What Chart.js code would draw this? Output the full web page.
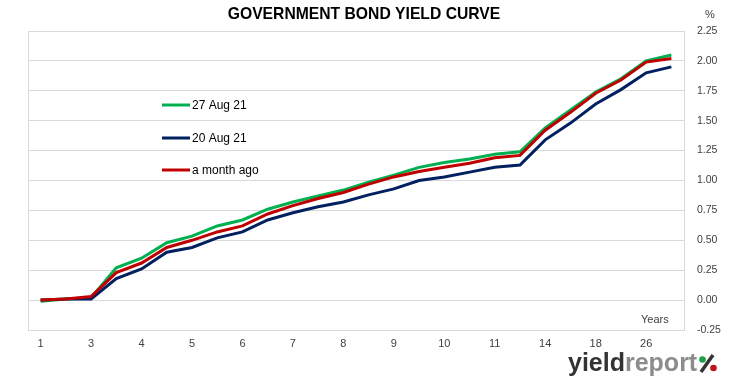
<!DOCTYPE html>
<html>
<head>
<meta charset="utf-8">
<script src="https://cdn.jsdelivr.net/npm/chart.js@4.4.1/dist/chart.umd.min.js"></script>
<style>
  html, body { margin: 0; padding: 0; background: #fff; }
</style>
</head>
<body>
<canvas id="yield-curve" width="731" height="381"></canvas>
<script>
// Maturity buckets: only every other one is labelled on the axis
const categories = ['1', '', '3', '', '4', '', '5', '', '6', '', '7', '', '8', '',
  '9', '', '10', '', '11', '', '14', '', '18', '', '26', ''];

const yield27Aug = [-0.01, 0.01, 0.02, 0.27, 0.35, 0.48, 0.535, 0.62, 0.67, 0.76, 0.82, 0.87, 0.92,
  0.985, 1.045, 1.11, 1.15, 1.18, 1.22, 1.24, 1.44, 1.59, 1.74, 1.85, 2.00, 2.05];
const yield20Aug = [0.00, 0.01, 0.01, 0.18, 0.26, 0.40, 0.44, 0.52, 0.57, 0.67, 0.73, 0.78, 0.82,
  0.88, 0.93, 1.00, 1.03, 1.07, 1.11, 1.13, 1.34, 1.48, 1.64, 1.76, 1.90, 1.95];
const yieldMonthAgo = [0.00, 0.01, 0.03, 0.23, 0.31, 0.44, 0.50, 0.57, 0.62, 0.72, 0.79, 0.85, 0.90,
  0.97, 1.03, 1.075, 1.11, 1.145, 1.19, 1.21, 1.42, 1.57, 1.73, 1.84, 1.99, 2.02];

const seriesNames = ['27 Aug 21', '20 Aug 21', 'a month ago'];

const TXT = '#404040';
const GRID = '#d9d9d9';

// title, legend, "Years", "%" and the logo are drawn by hand on top
const decorations = {
  id: 'decorations',
  afterDraw(chart) {
    const c = chart.ctx;
    const a = chart.chartArea;
    c.save();

    // frame round the plot
    c.strokeStyle = GRID;
    c.lineWidth = 1;
    c.strokeRect(a.left + 0.5, a.top + 0.5, a.right - a.left, a.bottom - a.top);

    c.fillStyle = '#000';
    c.textAlign = 'center';
    c.textBaseline = 'middle';
    c.font = 'bold 15.7px "Liberation Sans", sans-serif';
    c.fillText('GOVERNMENT BOND YIELD CURVE', 364, 15);

    c.fillStyle = TXT;
    c.font = '11px "Liberation Sans", sans-serif';
    c.fillText('%', 710, 15);
    c.textAlign = 'left';
    c.fillText('Years', 641, 320);

    // legend inside the plot
    const legY = [105, 138, 170];
    chart.data.datasets.forEach((ds, i) => {
      c.strokeStyle = ds.borderColor;
      c.lineWidth = 3;
      c.beginPath();
      c.moveTo(162, legY[i]);
      c.lineTo(190, legY[i]);
      c.stroke();
      c.fillStyle = '#000';
      c.font = '12px "Liberation Sans", sans-serif';
      c.fillText(ds.label, 192, legY[i] + 1);
    });

    // yieldreport logo
    c.textBaseline = 'alphabetic';
    c.font = 'bold 25px "Liberation Sans", sans-serif';
    c.fillStyle = '#333333';
    c.fillText('yield', 568, 371);
    const w = c.measureText('yield').width;
    c.fillStyle = '#8c8c8c';
    c.fillText('report', 568 + w, 371);
    c.strokeStyle = '#333333';
    c.lineWidth = 3.5;
    c.beginPath();
    c.moveTo(701, 372);
    c.lineTo(713, 355);
    c.stroke();
    c.fillStyle = '#1e9e4a';
    c.beginPath(); c.arc(702.5, 359.5, 3.3, 0, Math.PI * 2); c.fill();
    c.fillStyle = '#c0141c';
    c.beginPath(); c.arc(713.5, 368, 3.3, 0, Math.PI * 2); c.fill();

    c.restore();
  }
};

const ctx = document.getElementById('yield-curve').getContext('2d');

new Chart(ctx, {
  type: 'line',
  data: {
    labels: categories,
    datasets: [
      { label: seriesNames[0], data: yield27Aug, borderColor: '#00b050', order: 3 },
      { label: seriesNames[1], data: yield20Aug, borderColor: '#002060', order: 2 },
      { label: seriesNames[2], data: yieldMonthAgo, borderColor: '#c00000', order: 1 },
    ],
  },
  options: {
    responsive: false,
    animation: false,
    events: [],
    layout: { padding: { left: 28, top: 31, right: 0, bottom: 0 } },
    elements: {
      line: { borderWidth: 3, tension: 0, fill: false },
      point: { radius: 0 },
    },
    plugins: {
      legend: { display: false },
      title: { display: false },
      tooltip: { enabled: false },
    },
    scales: {
      x: {
        offset: true,
        grid: { display: false, drawTicks: false },
        border: { display: false },
        ticks: {
          autoSkip: false,
          maxRotation: 0,
          color: TXT,
          padding: 7,
          font: { family: '"Liberation Sans", sans-serif', size: 11 },
        },
        afterFit(scale) { scale.height = 51; },
      },
      y: {
        position: 'right',
        min: -0.25,
        max: 2.25,
        grid: { color: GRID, drawTicks: false },
        border: { display: false },
        ticks: {
          stepSize: 0.25,
          color: TXT,
          padding: 13,
          font: { family: '"Liberation Sans", sans-serif', size: 10.5 },
          callback: v => v.toFixed(2),
        },
        afterFit(scale) { scale.width = 47; },
      },
    },
  },
  plugins: [decorations],
});
</script>
</body>
</html>
